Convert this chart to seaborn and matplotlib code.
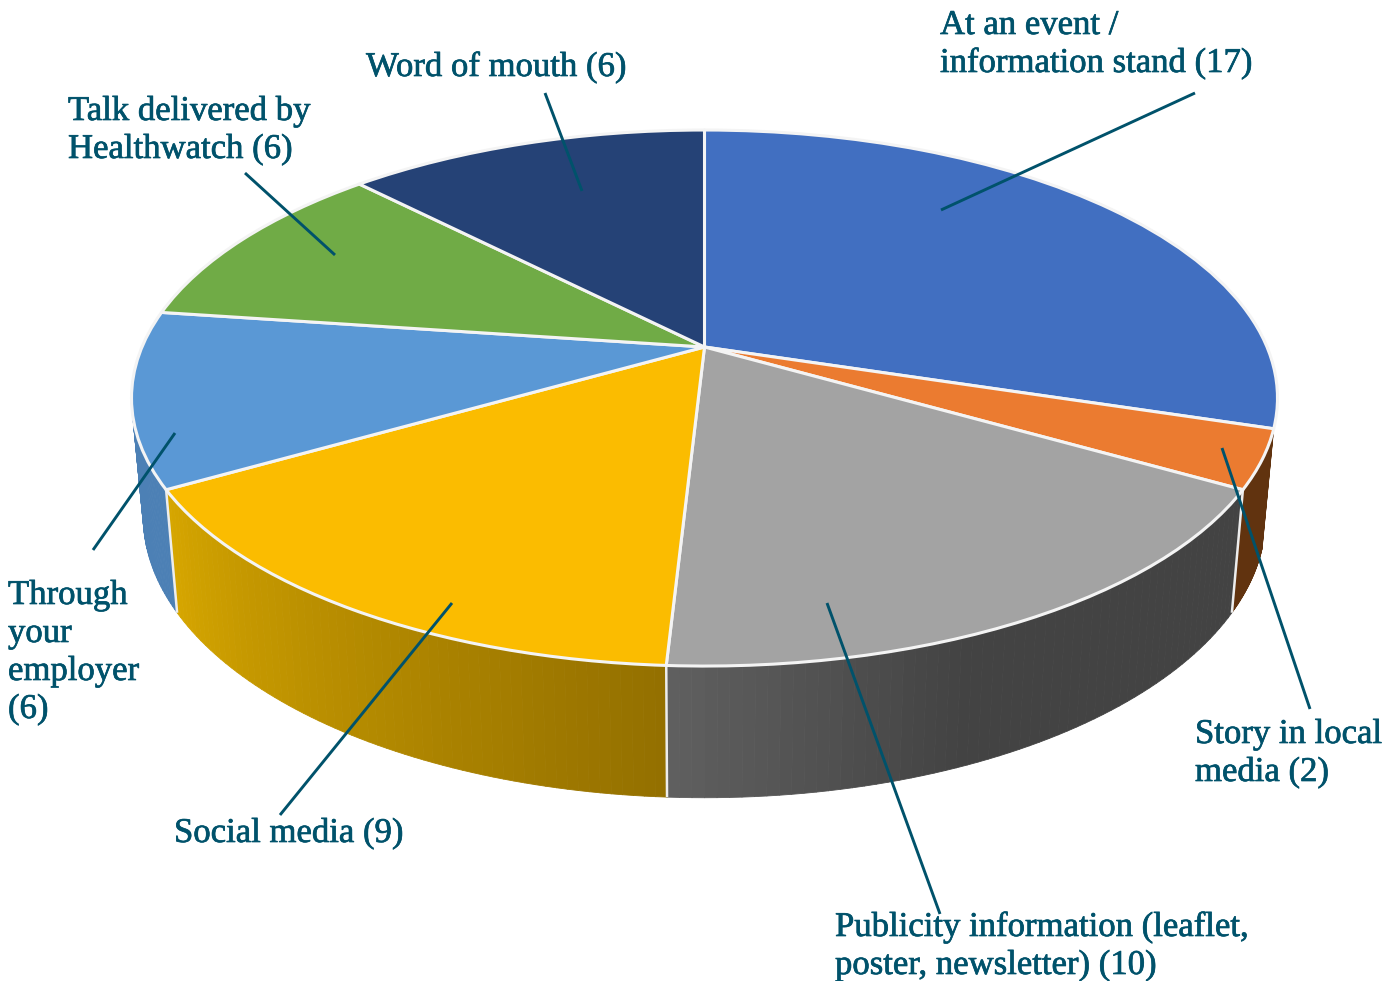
import numpy as np
import matplotlib
matplotlib.use("Agg")
import matplotlib.pyplot as plt
import matplotlib.patheffects as pe
from matplotlib.transforms import Transform
from matplotlib.collections import PolyCollection
import seaborn as sns

# Slice order is clockwise from 12 o'clock. The drawn slice sizes differ from the
# printed label for "Word of mouth" in the reference, so both are kept.
categories = ["At an event / information stand", "Story in local media",
              "Publicity information", "Social media", "Through your employer",
              "Talk delivered by Healthwatch", "Word of mouth"]
slice_values = [17, 2, 10, 9, 6, 6, 7]
slice_colors = ["#416FC1", "#EB7B30", "#A3A3A3", "#FBBC00", "#5A98D5", "#70AB46", "#254276"]

label_lines = [
    ["At an event /", "information stand (17)"],
    ["Story in local", "media (2)"],
    ["Publicity information (leaflet,", "poster, newsletter) (10)"],
    ["Social media (9)"],
    ["Through", "your", "employer", "(6)"],
    ["Talk delivered by", "Healthwatch (6)"],
    ["Word of mouth (6)"],
]
label_x = [940, 1195, 835, 174, 8, 68, 366]
label_first_baseline = [34, 743, 936, 842, 604, 120, 76]
leader_from = [(1195, 93), (1310, 709), (940, 914), (280, 815), (93, 550), (245, 173), (545, 93)]
leader_to = [(941, 210), (1222, 448), (827, 603), (452, 603), (175, 433), (335, 255), (582, 191)]

TEXT = "#00526B"
FONT = "Liberation Serif"
FS = 25
LINE_PX = 38


class Perspective(Transform):
    input_dims = output_dims = 2
    is_separable = False
    has_inverse = False

    def __init__(self, cx, cy, a, b, k):
        super().__init__()
        self.p = (cx, cy, a, b, k)

    def transform_non_affine(self, xy):
        xy = np.asarray(xy, dtype=float)
        cx, cy, a, b, k = self.p
        d = 1 + k * xy[:, 1]
        return np.column_stack([cx + a * xy[:, 0] / d, cy - b * xy[:, 1] / d])


top = Perspective(704.5, 347, 562.5, 258.3, 0.1904)
bottom = Perspective(704.5, 463, 551, 271, 0.1904)


def unit(deg):
    r = np.radians(deg)
    return np.column_stack([np.sin(r), np.cos(r)])


sns.set_theme(style="white")
fig = plt.figure(figsize=(14, 9.81), dpi=100)
ax = fig.add_axes([0, 0, 1, 1])

wedges, _ = ax.pie(slice_values, colors=sns.color_palette(slice_colors), startangle=90,
                   counterclock=False, radius=1,
                   wedgeprops=dict(edgecolor="#F4F4F4", linewidth=2.2, joinstyle="round", zorder=3))
for w in wedges:
    w.set_transform(top + ax.transData)

ax.set_aspect("auto")
ax.set_xlim(0, 1400)
ax.set_ylim(981, 0)
ax.set_axis_off()

edges = np.cumsum([0] + slice_values) / sum(slice_values) * 360
wall_shades = {
    1: ("#61330F", "#61330F"),
    2: ("#434343", "#5F5F5F"),
    3: ("#947000", "#D6A600"),
    4: ("#4C80B5", "#4C80B5"),
}
for i, (c0, c1) in wall_shades.items():
    t0, t1 = edges[i], edges[i + 1]
    n = 60
    th = np.linspace(t0, t1, n + 1)
    p_top = top.transform_non_affine(unit(th))
    p_bot = bottom.transform_non_affine(unit(th))
    polys = [np.vstack([p_top[j], p_top[j + 1], p_bot[j + 1], p_bot[j]]) for j in range(n)]
    rgb0, rgb1 = np.array(matplotlib.colors.to_rgb(c0)), np.array(matplotlib.colors.to_rgb(c1))
    frac = np.linspace(0, 1, n)
    if i == 2:
        frac = np.clip((frac - 0.6) / 0.4, 0, 1)
    cols = [rgb0 + (rgb1 - rgb0) * f for f in frac]
    ax.add_collection(PolyCollection(polys, facecolors=cols, edgecolors=cols, linewidths=0.6, zorder=1))

# pale seams between the side walls
for t in edges[2:5]:
    pts = np.vstack([top.transform_non_affine(unit([t])), bottom.transform_non_affine(unit([t]))])
    ax.plot(pts[:, 0], pts[:, 1], color="#EDEDED", lw=1.8, zorder=2, solid_capstyle="butt")

for a, b in zip(leader_from, leader_to):
    ax.plot([a[0], b[0]], [a[1], b[1]], color=TEXT, lw=2.1, zorder=5, solid_capstyle="butt")

for lines, x, y in zip(label_lines, label_x, label_first_baseline):
    for n, line in enumerate(lines):
        ax.text(x, y + n * LINE_PX, line, family=FONT, fontsize=FS, color=TEXT,
                ha="left", va="baseline", zorder=6, clip_on=True,
                path_effects=[pe.withStroke(linewidth=0.5, foreground=TEXT)])

fig.savefig("out.png", dpi=100, facecolor="white")
